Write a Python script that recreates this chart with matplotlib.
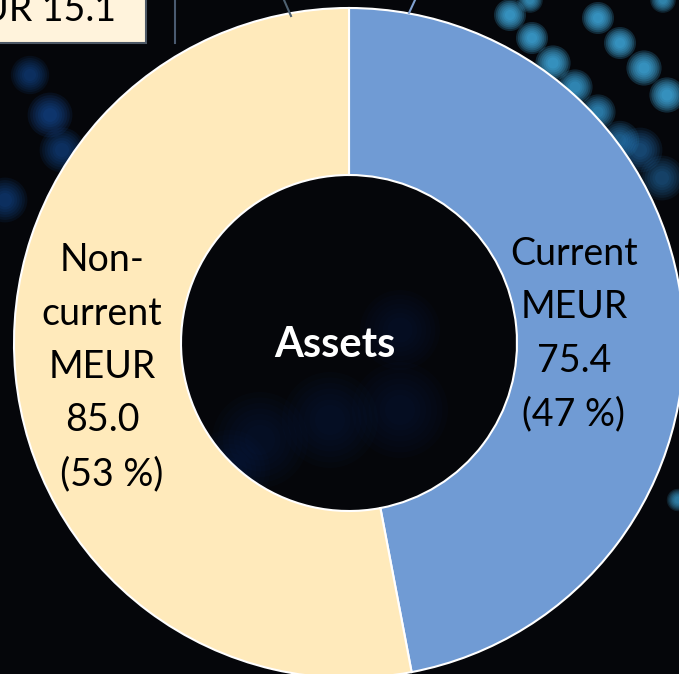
import numpy as np
import matplotlib.pyplot as plt
from matplotlib.patches import Circle, Rectangle

# data
labels = ['Current\nMEUR\n75.4\n(47 %)', 'Non-\ncurrent\nMEUR\n85.0\n  (53 %)']
values = [75.4, 85.0]
colors = ['#709bd4', '#ffeabb']
center_title = 'Assets'
callout_text = 'MEUR 15.1'

# background glow dots (x, y pixel, radius, colour, strength)
bg_dots = [
    (510, 15, 10, '#45b8f0', 1.0), (532, 38, 10, '#45b8f0', 1.0),
    (553, 63, 11, '#45b8f0', 1.0), (575, 87, 11, '#3fb0ea', 0.9),
    (598, 112, 11, '#3aa8e6', 0.8), (620, 140, 12, '#2f95dc', 0.6),
    (598, 18, 10, '#45b8f0', 1.0), (620, 43, 10, '#45b8f0', 1.0),
    (644, 68, 11, '#45b8f0', 1.0), (667, 95, 11, '#45b8f0', 1.0),
    (530, 0, 8, '#45b8f0', 0.8), (663, 0, 8, '#45b8f0', 0.8),
    (640, 150, 14, '#2a85d0', 0.5), (662, 178, 14, '#2a85d0', 0.45),
    (678, 500, 7, '#45b8f0', 0.7),
    (50, 115, 14, '#1a5fbf', 0.55), (62, 150, 14, '#1a5fbf', 0.45),
    (5, 200, 14, '#1a5fbf', 0.45), (30, 75, 12, '#1a5fbf', 0.45),
    (260, 440, 30, '#123a80', 0.2), (330, 420, 30, '#123a80', 0.2),
    (400, 410, 30, '#123a80', 0.18), (230, 470, 25, '#123a80', 0.18),
    (400, 330, 25, '#123a80', 0.18),
]

W, H = 679, 674
fig = plt.figure(figsize=(W / 100, H / 100), dpi=100)
fig.patch.set_facecolor('#05060a')
ax = fig.add_axes([0, 0, 1, 1])
ax.set_facecolor('#05060a')

def py(y):
    return H - y

# soft glowing dots behind the chart
for x, y, r, c, s in bg_dots:
    for k in np.linspace(1.6, 0.5, 7):
        ax.add_patch(Circle((x, py(y)), r * k, color=c, alpha=0.2 * s, lw=0, zorder=0))

cx, cy = 349, py(343)
R = 335
wedges, texts = ax.pie(values, colors=colors, startangle=90, counterclock=False,
                       center=(cx, cy), radius=R,
                       wedgeprops=dict(width=167, edgecolor='white', linewidth=1.5))
for w in wedges:
    w.set_zorder(2)

ax.text(574, py(334), labels[0], ha='center', va='center', fontsize=27,
        family='Lato', color='black', linespacing=1.6, zorder=3)
ax.text(102, py(367), labels[1], ha='center', va='center', fontsize=27,
        family='Lato', color='black', linespacing=1.6, zorder=3)
ax.text(335, py(345), center_title, ha='center', va='center', fontsize=30,
        family='Lato', fontweight='bold', color='white', zorder=3)

# callout box cut by the top left corner
ax.add_patch(Rectangle((-5, py(43)), 151, 50, facecolor='#fff3dc',
                       edgecolor='#4d5866', linewidth=1.5, zorder=4))
ax.text(116, py(21), callout_text, ha='right', va='baseline', fontsize=27,
        family='Lato', color='black', zorder=5)
ax.plot([175, 175], [py(0), py(43)], color='#4a5a70', lw=1.5, zorder=4)
ax.plot([284, 291], [py(0), py(16)], color='#4e6070', lw=1.5, zorder=4)
ax.plot([415, 409], [py(0), py(13)], color='#7fa0d0', lw=1.5, zorder=4)

ax.set_xlim(0, W)
ax.set_ylim(0, H)
ax.set_aspect('auto')
ax.axis('off')

fig.savefig('out.png', dpi=100, facecolor=fig.get_facecolor())
